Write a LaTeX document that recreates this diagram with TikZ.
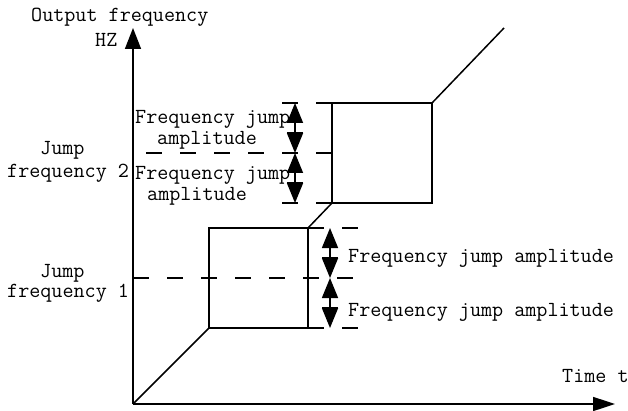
\documentclass[tikz,border=0pt]{standalone}
\usetikzlibrary{arrows.meta}
\begin{document}
\begin{tikzpicture}[x=1pt,y=1pt,
  line/.style={line width=1.5pt, line join=miter},
  axis/.style={line width=1.6pt},
  dashline/.style={line width=1.5pt, dash pattern=on 16pt off 18pt},
  dimarrow/.style={line width=1.5pt, {Triangle[length=20pt,width=16pt]}-{Triangle[length=20pt,width=16pt]}},
  lbl/.style={font=\ttfamily\fontsize{21.5}{22}\selectfont, inner sep=0pt, anchor=base west}]
\useasboundingbox (0,0) rectangle (628,410);
% axes
\coordinate (O) at (133,6);
\coordinate (Ytip) at (133,382);
\coordinate (Xtip) at (615,6);
\draw[axis, -{Triangle[length=21pt,width=16pt]}] (O) -- (Ytip);
\draw[axis, -{Triangle[length=22pt,width=14pt]}] (O) -- (Xtip);
% curve and boxes
\coordinate (L1) at (209,82);
\coordinate (L2) at (308,82);
\coordinate (L3) at (308,182);
\coordinate (L4) at (209,182);
\coordinate (U1) at (332,207);
\coordinate (U2) at (432,207);
\coordinate (U3) at (432,307);
\coordinate (U4) at (332,307);
\coordinate (E) at (504,382);
\draw[line] (O) -- (L1);
\draw[line] (L1) -- (L2) -- (L3) -- (L4) -- cycle;
\draw[line] (L3) -- (U1);
\draw[line] (U1) -- (U2) -- (U3) -- (U4) -- cycle;
\draw[line] (U3) -- (E);
% dashed reference lines
\coordinate (D1a) at (133,132); \coordinate (D1b) at (358,132);
\coordinate (D2a) at (308,182); \coordinate (D2b) at (358,182);
\coordinate (D3a) at (308,82);  \coordinate (D3b) at (358,82);
\draw[dashline] (D1a) -- (D1b);
\draw[dashline] (D2a) -- (D2b);
\draw[dashline] (D3a) -- (D3b);
\coordinate (E1a) at (146,257); \coordinate (E1b) at (332,257);
\coordinate (E2a) at (282,307); \coordinate (E2b) at (332,307);
\coordinate (E3a) at (282,207); \coordinate (E3b) at (332,207);
\draw[dashline] (E1a) -- (E1b);
\draw[dashline] (E2a) -- (E2b);
\draw[dashline] (E3a) -- (E3b);
% dimension arrows (lower)
\coordinate (a1) at (330,182); \coordinate (a2) at (330,132); \coordinate (a3) at (330,82);
\draw[dimarrow] (a1) -- (a2);
\draw[dimarrow] (a2) -- (a3);
\draw[line] (322,152) -- (338,152);
\draw[line] (322,102) -- (338,102);
% dimension arrows (upper)
\coordinate (b1) at (295,307); \coordinate (b2) at (295,257); \coordinate (b3) at (295,207);
\draw[dimarrow] (b1) -- (b2);
\draw[dimarrow] (b2) -- (b3);
\draw[line] (287,277) -- (303,277);
\draw[line] (287,227) -- (303,227);
% labels
\node[lbl] (t1) at (31,388) {Output frequency};
\node[lbl] (t2) at (95,363) {HZ};
\node[lbl] (t3) at (40,255) {Jump};
\node[lbl] (t4) at (7,233) {frequency 2};
\node[lbl] (t5) at (40,133) {Jump};
\node[lbl] (t6) at (7,113) {frequency 1};
\node[lbl] (t7) at (135,286) {Frequency jump};
\node[lbl] (t8) at (157,265) {amplitude};
\node[lbl] (t9) at (135,230) {Frequency jump};
\node[lbl] (t10) at (147,210) {amplitude};
\node[lbl] (t11) at (348,148) {Frequency jump amplitude};
\node[lbl] (t12) at (348,94) {Frequency jump amplitude};
\node[lbl] (t13) at (562,28) {Time t};
\end{tikzpicture}
\end{document}
